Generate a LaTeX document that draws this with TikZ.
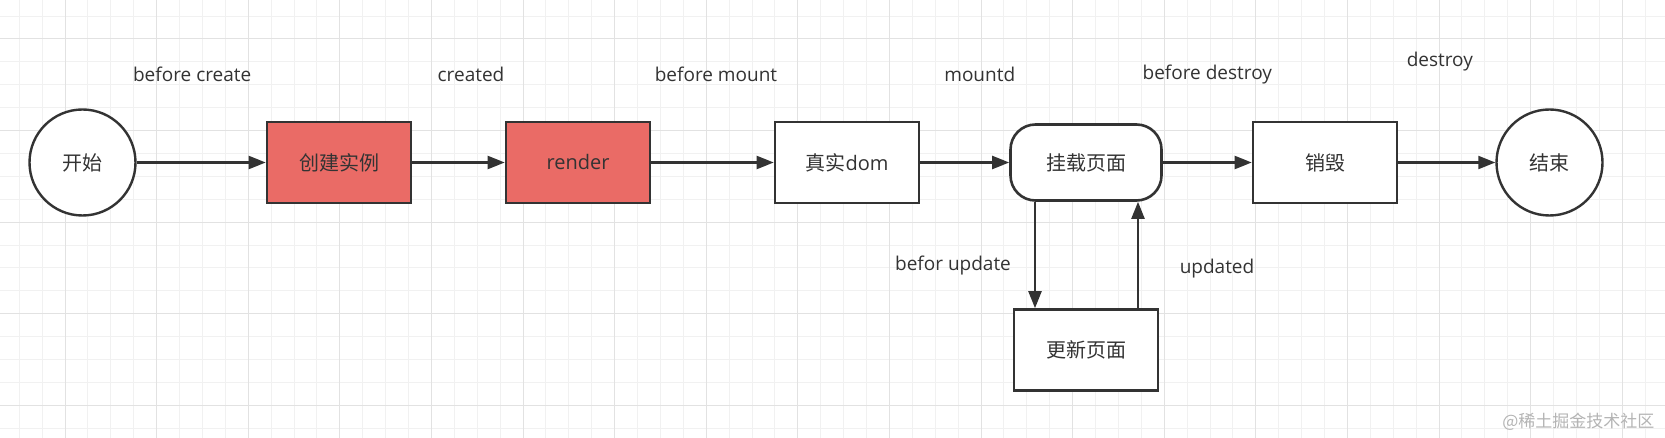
\documentclass[tikz,border=0pt]{standalone}
\usepackage{fontspec}
\setmainfont{Open Sans}
\newfontfamily\cjk{Noto Sans CJK SC}
\usetikzlibrary{arrows.meta, positioning}
\definecolor{inkgrey}{HTML}{333333}
\definecolor{hookred}{HTML}{EA6B66}
\definecolor{gridminor}{HTML}{F1F1F1}
\definecolor{gridmajor}{HTML}{E2E2E2}
\definecolor{markgrey}{HTML}{B4B4B4}

\begin{document}
\begin{tikzpicture}[x=1pt, y=1pt, on grid, >={Triangle[length=17pt,width=13pt]},
    every node/.style={text=inkgrey, font=\fontsize{20}{24}\selectfont},
    cn/.style={font=\cjk\fontsize{20}{24}\selectfont},
    endpt/.style={circle, draw=inkgrey, line width=2.4pt, fill=white, minimum size=106pt, cn},
    stage/.style={rectangle, draw=inkgrey, line width=2.6pt, fill=white,
      minimum width=144pt, minimum height=81pt, inner sep=0pt},
    hook/.style={stage, fill=hookred},
    pagebox/.style={stage, rounded corners=25pt, minimum width=151pt, minimum height=76pt},
    lbl/.style={font=\fontsize{19}{23}\selectfont},
    flow/.style={->, draw=inkgrey, line width=2.2pt},
    minorline/.style={draw=gridminor, line width=1pt},
    majorline/.style={draw=gridmajor, line width=1pt}]
  % background grid
  \fill[white] (0,0) rectangle (1665,-438);
  \useasboundingbox (0,0) rectangle (1665,-438);
  \foreach \i in {0,...,71} \draw[minorline] ({19.2+22.9*\i},0) -- ++(0,-438);
  \foreach \j in {0,...,18} \draw[minorline] (0,{-16.1-22.9*\j}) -- ++(1665,0);
  \foreach \i in {0,...,17} \draw[majorline] ({65+91.6*\i},0) -- ++(0,-438);
  \foreach \j in {0,...,4} \draw[majorline] (0,{-39-91.6*\j}) -- ++(1665,0);

  % lifecycle
  \node[endpt] (start) at (82.5,-162.5) {开始};
  \node[hook, cn] (create) [right=256.5pt of start] {创建实例};
  \node[hook] (render) [right=239pt of create] {render};
  \node[stage] (dom) [right=269pt of render] {{\cjk 真实}dom};
  \node[pagebox, cn] (mount) [right=239pt of dom] {挂载页面};
  \node[stage, cn] (destroy) [right=239pt of mount] {销毁};
  \node[endpt] (finish) [right=224.5pt of destroy] {结束};
  \node[stage, cn] (upd) [below=187.5pt of mount] {更新页面};

  \draw[flow] (start) -- node[lbl, xshift=-9pt, yshift=88pt] (lbcreate) {before create} (create);
  \draw[flow] (create) -- node[lbl, xshift=12.5pt, yshift=88pt] (lbcreated) {created} (render);
  \draw[flow] (render) -- node[lbl, xshift=3.5pt, yshift=88pt] (lbmount) {before mount} (dom);
  \draw[flow] (dom) -- node[lbl, xshift=15pt, yshift=88pt] (lbmounted) {mountd} (mount);
  \draw[flow] (mount) -- node[lbl, yshift=88pt] (lbdestroy) {before destroy} (destroy);
  \draw[flow] (destroy) -- node[lbl, xshift=-7pt, yshift=101pt] (lbdestroyed) {destroy} (finish);
  \draw[flow] ([xshift=-51pt]mount.south) -- node[lbl, xshift=-82pt, yshift=-11pt] (lbupdate) {befor update} ([xshift=-51pt]upd.north);
  \draw[flow] ([xshift=52pt]upd.north) -- node[lbl, xshift=79pt, yshift=-14pt] (lbupdated) {updated} ([xshift=52pt]mount.south);

  \node[anchor=east, text=markgrey, font=\cjk\fontsize{17}{20}\selectfont] (mark) at (1658,-422) {@稀土掘金技术社区};
\end{tikzpicture}
\end{document}
